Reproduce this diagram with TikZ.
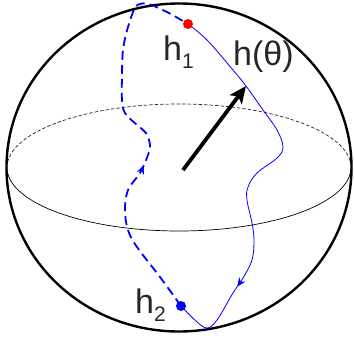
\documentclass[tikz,border=0pt]{standalone}
\usepackage{fontspec}
\setmainfont{Liberation Sans}
\usetikzlibrary{arrows.meta,decorations.markings}

\newcommand{\lsub}[1]{\raisebox{-0.24em}{\fontsize{21}{21}\selectfont #1}}

\begin{document}
\begin{tikzpicture}[
    x=1pt, y=-1pt,
    >={Stealth[length=9pt,width=7.5pt]},
    sphere/.style={draw=black, line width=2.4pt},
    eqback/.style={draw=black!85, line width=0.7pt, dash pattern=on 3.5pt off 2pt},
    eqfront/.style={draw=black, line width=0.7pt},
    vec/.style={-{Stealth[length=17pt,width=15pt,inset=4pt]}, line width=3.8pt},
    trajfront/.style={draw=blue, line width=0.8pt},
    trajback/.style={draw=blue, line width=1.8pt, dash pattern=on 9pt off 5pt},
    midarrow/.style={postaction={decorate}, decoration={markings,
        mark=at position #1 with {\pgfsetdash{}{0pt}\arrow{>}}}},
    dot/.style={circle, inner sep=0pt, minimum size=10pt},
    lbl/.style={inner sep=0pt, anchor=base west, text=black!85,
        font=\fontsize{34}{34}\selectfont}
]
\useasboundingbox (0,0) rectangle (354,343);

% --- Sphere and equator ---
\def\cx{179}
\def\cy{167.5}
\draw[sphere] (\cx,\cy) ellipse [x radius=172.5pt, y radius=164pt];
\draw[eqback] (\cx-172,\cy) arc[start angle=180, end angle=0, x radius=172pt, y radius=63.5pt];
\draw[eqfront] (\cx-172,\cy) arc[start angle=180, end angle=360, x radius=172pt, y radius=63.5pt];

% --- End points ---
\coordinate (p1) at (188,24);
\coordinate (p2) at (181,306);

% --- Front path h1 -> h2 ---
\draw[trajfront, midarrow=0.785] plot[smooth, tension=0.6] coordinates {
    (p1) (207,40) (233,70) (246,86) (263,110) (277,130) (283,147) (277,158)
    (257,173) (248,187) (247,200) (252,223) (254,240) (252,260) (243,278)
    (233,293) (217,320) (207,328) (196,321) (p2)};

% --- Back path h2 -> h1 ---
\draw[trajback, midarrow=0.415] plot[smooth, tension=0.6] coordinates {
    (p2) (160,277) (137,247) (128,230) (125,210) (128,190) (140,173)
    (148,155) (150,145) (146,133) (137,125) (125,113) (122,100) (122,77)
    (123,50) (128,27) (135,8) (142,3.5) (150,4.5) (167,12) (p1)};

% --- Dots ---
\node[dot, fill=red] (h1dot) at (p1) {};
\node[dot, fill=blue] (h2dot) at (p2) {};

% --- Vector ---
\coordinate (o) at (183,170);
\coordinate (tip) at (246,86);
\draw[vec] (o) -- (tip);

% --- Labels ---
\node[lbl] (h1) at (163,60) {h\lsub{1}};
\node[lbl] (ht) at (233,65) {h(θ)};
\node[lbl] (h2) at (135,313) {h\lsub{2}};

\end{tikzpicture}
\end{document}
